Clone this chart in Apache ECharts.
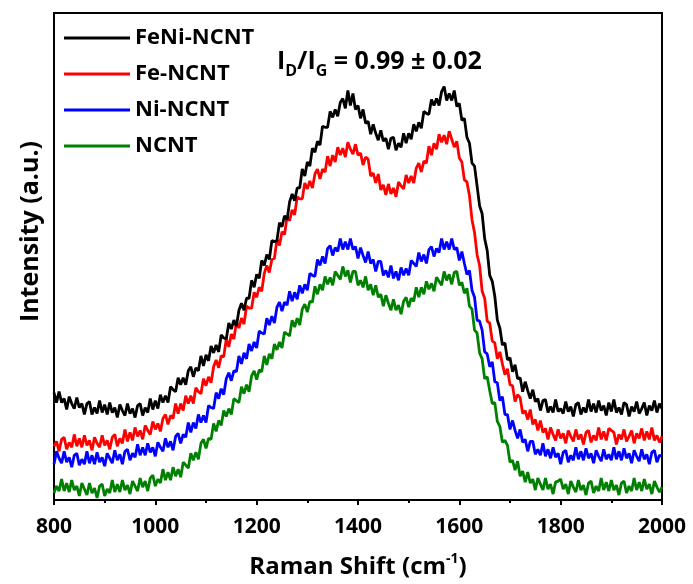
<!DOCTYPE html>
<html>
<head>
<meta charset="utf-8">
<title>Raman spectra</title>
<script src="https://cdn.jsdelivr.net/npm/echarts@6/dist/echarts.min.js"></script>
<style>
  html, body { margin: 0; padding: 0; background: #ffffff; }
  #chart { width: 693px; height: 584px; }
</style>
</head>
<body>
<div id="chart"></div>
<script>
// Raman shift sampling grid (cm-1): 800 to 2000 in 5 cm-1 steps
const shiftStart = 800, shiftStep = 5, shiftCount = 241;
const ramanShift = [];
for (let i = 0; i < shiftCount; i++) ramanShift.push(shiftStart + i * shiftStep);

const seriesNames = ['FeNi-NCNT', 'Fe-NCNT', 'Ni-NCNT', 'NCNT'];
const seriesColors = ['#000000', '#ff0000', '#0000ff', '#008000'];
const xTicks = [800, 1000, 1200, 1400, 1600, 1800, 2000];

// Intensity (a.u.), offset spectra, one row per 50 cm-1
const feniNcnt = [
  108, 98, 109, 98, 102, 91, 104, 97, 92, 103,
  93, 97, 86, 97, 99, 86, 93, 87, 100, 88,
  96, 86, 98, 88, 93, 83, 96, 90, 85, 97,
  87, 92, 83, 95, 97, 85, 93, 88, 102, 91,
  100, 92, 106, 98, 105, 98, 114, 111, 109, 123,
  116, 123, 116, 130, 134, 124, 133, 130, 145, 135,
  146, 140, 155, 148, 156, 149, 166, 163, 162, 178,
  172, 181, 175, 191, 198, 191, 203, 203, 221, 214,
  227, 223, 241, 236, 247, 242, 261, 260, 261, 279,
  275, 286, 282, 300, 308, 301, 314, 314, 333, 326,
  340, 336, 354, 350, 361, 357, 376, 375, 375, 391,
  385, 393, 386, 400, 404, 394, 412, 397, 409, 393,
  397, 384, 393, 379, 381, 368, 378, 369, 362, 372,
  361, 364, 353, 364, 365, 352, 359, 355, 369, 359,
  369, 363, 378, 371, 380, 374, 391, 389, 388, 403,
  397, 404, 397, 411, 416, 402, 409, 402, 412, 396,
  399, 382, 384, 365, 359, 339, 336, 316, 296, 288,
  263, 251, 226, 220, 205, 181, 173, 156, 158, 141,
  143, 129, 136, 122, 123, 109, 119, 110, 102, 111,
  99, 102, 90, 100, 101, 88, 94, 88, 101, 89,
  92, 87, 99, 89, 94, 84, 96, 98, 86, 93,
  88, 101, 89, 97, 88, 100, 90, 95, 85, 98,
  89, 101, 88, 93, 86, 98, 96, 84, 94, 89,
  99, 87, 92, 98, 85, 95, 90, 100, 88, 97,
  92
];
const feNcnt = [
  54, 59, 49, 61, 63, 51, 58, 53, 66, 54,
  62, 53, 65, 55, 60, 50, 63, 57, 53, 65,
  55, 60, 51, 63, 66, 54, 62, 57, 71, 59,
  68, 60, 73, 64, 70, 61, 75, 70, 66, 79,
  71, 77, 69, 82, 86, 76, 85, 82, 97, 87,
  97, 90, 105, 97, 105, 97, 113, 109, 107, 122,
  115, 124, 118, 134, 141, 133, 145, 144, 162, 154,
  167, 162, 179, 173, 183, 177, 195, 193, 193, 209,
  204, 214, 210, 228, 236, 229, 242, 243, 262, 256,
  270, 267, 285, 281, 292, 287, 305, 303, 303, 319,
  313, 321, 314, 328, 333, 323, 333, 330, 346, 336,
  347, 340, 355, 347, 354, 345, 360, 353, 348, 358,
  347, 349, 337, 345, 343, 326, 329, 319, 328, 312,
  317, 307, 318, 308, 314, 305, 320, 316, 313, 327,
  319, 326, 319, 334, 339, 330, 341, 339, 356, 347,
  359, 353, 368, 360, 367, 358, 371, 363, 355, 361,
  344, 340, 322, 320, 306, 282, 269, 247, 236, 210,
  203, 180, 178, 160, 158, 142, 149, 137, 126, 132,
  116, 115, 99, 106, 103, 87, 90, 81, 91, 76,
  81, 70, 80, 68, 72, 61, 73, 66, 60, 71,
  62, 67, 57, 70, 64, 59, 71, 61, 66, 56,
  68, 70, 58, 65, 60, 73, 61, 69, 60, 72,
  70, 68, 56, 66, 61, 71, 59, 64, 70, 57,
  67, 62, 72, 60, 69, 61, 73, 60, 65, 58,
  64
];
const niNcnt = [
  36, 49, 42, 37, 49, 38, 43, 33, 45, 47,
  35, 41, 36, 49, 37, 45, 36, 48, 38, 43,
  34, 47, 42, 37, 50, 40, 46, 36, 49, 51,
  40, 47, 43, 56, 45, 53, 45, 57, 48, 53,
  44, 58, 53, 49, 62, 53, 59, 50, 64, 67,
  57, 66, 63, 78, 68, 78, 72, 86, 78, 85,
  78, 95, 93, 92, 108, 102, 112, 106, 122, 128,
  120, 130, 129, 145, 137, 148, 142, 157, 150, 159,
  153, 170, 168, 167, 183, 176, 185, 178, 194, 199,
  190, 199, 196, 210, 200, 209, 202, 216, 208, 217,
  211, 228, 226, 225, 242, 236, 245, 238, 253, 256,
  246, 254, 250, 263, 252, 260, 252, 263, 252, 255,
  243, 254, 246, 239, 250, 238, 242, 230, 240, 240,
  226, 231, 224, 236, 223, 230, 221, 234, 226, 233,
  226, 241, 238, 235, 249, 240, 247, 238, 252, 255,
  245, 253, 249, 263, 252, 260, 252, 263, 252, 254,
  241, 250, 238, 227, 231, 211, 204, 181, 180, 171,
  149, 147, 134, 139, 119, 118, 100, 104, 86, 86,
  71, 80, 70, 62, 71, 58, 61, 49, 59, 59,
  46, 51, 45, 57, 44, 51, 42, 53, 43, 47,
  36, 48, 50, 38, 45, 40, 53, 41, 49, 40,
  52, 42, 47, 37, 50, 44, 39, 51, 41, 46,
  40, 53, 41, 49, 40, 52, 42, 47, 37, 50,
  44, 39, 51, 41, 46, 36, 48, 50, 38, 45,
  44
];
const ncnt = [
  7, 14, 9, 21, 9, 17, 8, 20, 10, 14,
  4, 17, 11, 5, 17, 7, 12, 2, 14, 16,
  4, 11, 7, 20, 8, 16, 8, 20, 10, 15,
  6, 19, 14, 9, 22, 13, 19, 9, 22, 25,
  14, 21, 17, 31, 20, 28, 20, 33, 24, 31,
  23, 38, 35, 32, 47, 40, 48, 41, 57, 61,
  52, 62, 61, 77, 69, 80, 75, 90, 84, 92,
  86, 102, 100, 98, 114, 107, 116, 109, 125, 130,
  121, 131, 129, 145, 136, 147, 142, 157, 151, 159,
  153, 169, 167, 165, 181, 174, 183, 176, 192, 197,
  189, 200, 199, 215, 207, 217, 211, 225, 217, 224,
  216, 230, 226, 222, 235, 225, 231, 219, 230, 230,
  216, 221, 214, 225, 211, 217, 206, 216, 204, 207,
  195, 206, 198, 191, 202, 191, 196, 187, 200, 204,
  194, 203, 200, 214, 204, 214, 207, 220, 212, 218,
  210, 224, 220, 216, 230, 221, 227, 217, 229, 230,
  216, 219, 208, 213, 195, 192, 171, 168, 148, 142,
  122, 124, 110, 97, 98, 79, 74, 58, 60, 55,
  38, 40, 30, 39, 24, 29, 18, 28, 17, 21,
  10, 22, 16, 10, 22, 11, 16, 6, 18, 19,
  21, 11, 16, 6, 19, 13, 8, 20, 10, 15,
  5, 17, 19, 7, 14, 9, 22, 10, 18, 9,
  20, 10, 15, 5, 17, 19, 7, 14, 9, 22,
  10, 18, 9, 21, 11, 16, 6, 19, 13, 8,
  13
];

const spectra = [feniNcnt, feNcnt, niNcnt, ncnt];
const FONT = '"Open Sans", "Liberation Sans", sans-serif';

function pairs(values) {
  return values.map((v, i) => [ramanShift[i], v]);
}

const chart = echarts.init(document.getElementById('chart'), null, { renderer: 'canvas' });

const option = {
  backgroundColor: '#ffffff',
  animation: false,
  grid: {
    left: 54, right: 31, top: 13, bottom: 81,
    show: true, borderColor: '#000000', borderWidth: 2, backgroundColor: 'transparent'
  },
  legend: {
    orient: 'vertical',
    left: 59, top: 21,
    icon: 'rect',
    itemWidth: 66, itemHeight: 3, itemGap: 12,
    data: seriesNames,
    textStyle: { fontFamily: FONT, fontWeight: 'bold', fontSize: 22, color: '#000', lineHeight: 24 }
  },
  xAxis: {
    type: 'value',
    min: xTicks[0], max: xTicks[xTicks.length - 1], interval: 200,
    axisLine: { show: true, lineStyle: { color: '#000', width: 2 } },
    axisTick: { show: true, inside: false, length: 5, lineStyle: { color: '#000', width: 2 } },
    minorTick: { show: true, splitNumber: 2, length: 3, lineStyle: { color: '#000', width: 2 } },
    splitLine: { show: false },
    axisLabel: {
      margin: 17, color: '#000', fontFamily: FONT, fontWeight: 'bold', fontSize: 21,
      formatter: v => String(v)
    },
    name: '{b|Raman Shift (cm}{s|-1}{b|)}',
    nameLocation: 'middle', nameGap: 52,
    nameTextStyle: {
      rich: {
        b: { fontFamily: FONT, fontWeight: 'bold', fontSize: 24, color: '#000', lineHeight: 30, verticalAlign: 'middle' },
        s: { fontFamily: FONT, fontWeight: 'bold', fontSize: 14, color: '#000', lineHeight: 30, verticalAlign: 'top' }
      }
    }
  },
  yAxis: {
    type: 'value', min: 0, max: 490,
    axisLine: { show: true, lineStyle: { color: '#000', width: 2 } },
    axisTick: { show: false },
    axisLabel: { show: false },
    splitLine: { show: false }
  },
  graphic: [
    {
      type: 'text', left: 18, top: 141,
      rotation: Math.PI / 2,
      style: {
        text: 'Intensity (a.u.)',
        fontFamily: FONT, fontWeight: 'bold', fontSize: 25, fill: '#000'
      }
    },
    {
      type: 'text', left: 277, top: 49,
      style: {
        text: '{m|I}{d|D}{m|/I}{d|G}{m| = 0.99 ± 0.02}',
        rich: {
          m: { fontFamily: FONT, fontWeight: 'bold', fontSize: 25, fill: '#000', lineHeight: 35, verticalAlign: 'middle' },
          d: { fontFamily: FONT, fontWeight: 'bold', fontSize: 16, fill: '#000', lineHeight: 35, verticalAlign: 'bottom' }
        }
      }
    }
  ],
  series: seriesNames.map((name, k) => ({
    name: name,
    type: 'line',
    data: pairs(spectra[k]),
    symbol: 'none',
    showSymbol: false,
    smooth: false,
    z: 10 - k,
    lineStyle: { color: seriesColors[k], width: 2.8 },
    itemStyle: { color: seriesColors[k] }
  }))
};

chart.setOption(option);
</script>
</body>
</html>
